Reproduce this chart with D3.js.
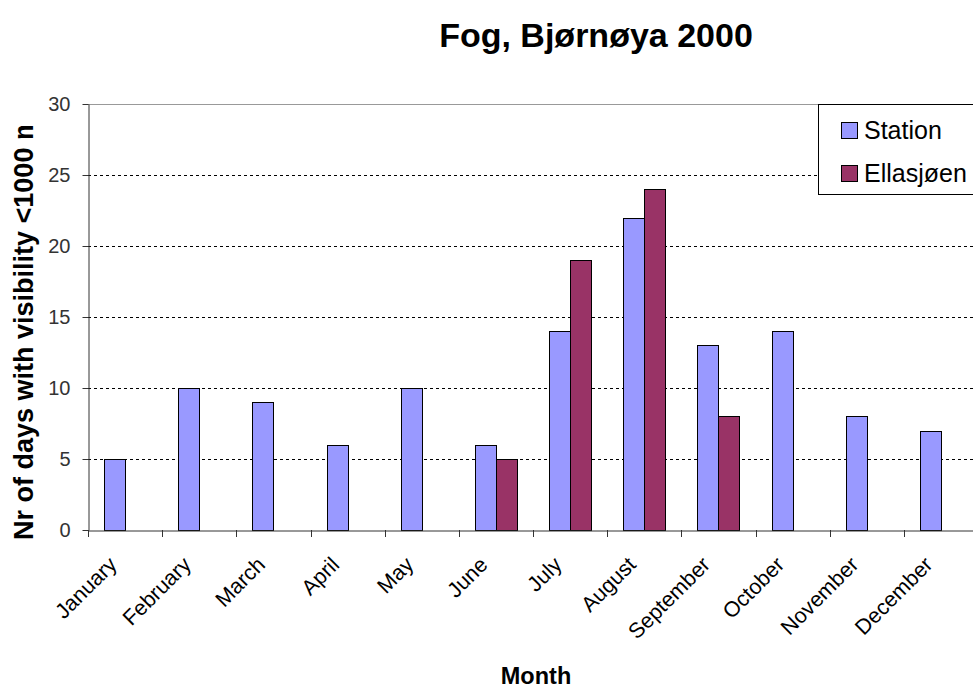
<!DOCTYPE html>
<html><head><meta charset="utf-8">
<script src="https://cdn.jsdelivr.net/npm/d3@7"></script>
<style>body{margin:0;background:#fff;} svg{display:block;font-family:Arial,"Liberation Sans",sans-serif;}</style>
</head><body>
<svg id="chart" width="973" height="688"></svg>
<script>
const months = ["January","February","March","April","May","June","July","August","September","October","November","December"];
const seriesNames = ["Station","Ellasjøen"];
const station = [5,10,9,6,10,6,14,22,13,14,8,7];
const ellasjoen = [null,null,null,null,null,5,19,24,8,null,null,null];
const yTicks = [0,5,10,15,20,25,30];
const colors = ["#9999FF","#993366"];

(function(){
const svg = d3.select("#chart");
const pLeft = 88, pRight = 978, pTop = 104, pBottom = 530;

const x = d3.scaleBand().domain(months).range([pLeft, pRight]).paddingInner(0).paddingOuter(0);
const inner = d3.scaleBand().domain(seriesNames).range([0, x.bandwidth()]).paddingInner(0).paddingOuter(0.76);
const y = d3.scaleLinear().domain([0,30]).range([pBottom, pTop]);

svg.append("g").selectAll("line").data(yTicks.filter(d => d > 0 && d < 30)).join("line")
  .attr("x1", pLeft).attr("x2", pRight).attr("y1", d => Math.round(y(d)) + 0.5).attr("y2", d => Math.round(y(d)) + 0.5)
  .attr("stroke", "#000").attr("stroke-width", 1).attr("stroke-dasharray", "3,3");
svg.append("line").attr("x1", pLeft).attr("x2", pRight).attr("y1", Math.round(y(30)) + 0.5).attr("y2", Math.round(y(30)) + 0.5)
  .attr("stroke", "#999");

const data = [];
months.forEach((m, i) => {
  data.push({m, s: "Station", v: station[i]});
  data.push({m, s: "Ellasjøen", v: ellasjoen[i]});
});
svg.append("g").selectAll("rect").data(data.filter(d => d.v != null)).join("rect")
  .attr("x", d => Math.round(x(d.m) + inner(d.s)) + 0.5)
  .attr("width", Math.round(inner.bandwidth()))
  .attr("y", d => Math.round(y(d.v)) + 0.5)
  .attr("height", d => Math.round(y(0)) - Math.round(y(d.v)))
  .attr("fill", d => colors[seriesNames.indexOf(d.s)])
  .attr("stroke", "#000").attr("stroke-width", 1);

const yAxis = svg.append("g").attr("transform", `translate(${pLeft + 0.5},0)`)
  .call(d3.axisLeft(y).tickValues(yTicks).tickSize(6).tickSizeOuter(0).tickPadding(12));
yAxis.select(".domain").attr("stroke", "#333");
yAxis.selectAll(".tick line").attr("stroke", "#333");
yAxis.selectAll("text").attr("font-size", "20px").attr("fill", "#333")
  .attr("font-family", "Arial, 'Liberation Sans', sans-serif");

const xAxis = svg.append("g").attr("transform", `translate(0,${pBottom + 0.5})`)
  .call(d3.axisBottom(x).tickSize(0).tickSizeOuter(0).tickFormat(""));
xAxis.select(".domain").attr("stroke", "#333");
svg.append("g").selectAll("line").data(months).join("line")
  .attr("x1", d => Math.round(x(d)) + 0.5).attr("x2", d => Math.round(x(d)) + 0.5)
  .attr("y1", pBottom).attr("y2", pBottom + 7).attr("stroke", "#333");
svg.append("g").selectAll("text").data(months).join("text")
  .attr("transform", d => `translate(${x(d) + x.bandwidth()/2 - 7},${pBottom + 36}) rotate(-45)`)
  .attr("text-anchor", "end").attr("font-size", "21.5px").attr("fill", "#000")
  .text(d => d);

svg.append("text").attr("x", 596).attr("y", 47).attr("text-anchor", "middle")
  .attr("font-size", "34px").attr("font-weight", "bold").text("Fog, Bjørnøya 2000");
svg.append("text").attr("x", 536).attr("y", 684).attr("text-anchor", "middle")
  .attr("font-size", "23.5px").attr("font-weight", "bold").text("Month");

svg.append("clipPath").attr("id", "yclip").append("rect")
  .attr("x", 0).attr("y", 126).attr("width", 60).attr("height", 500);
svg.append("g").attr("clip-path", "url(#yclip)").append("text")
  .attr("transform", "translate(33,540) rotate(-90)").attr("text-anchor", "start")
  .attr("font-size", "27px").attr("font-weight", "bold").text("Nr of days with visibility <1000 m");

const lg = svg.append("g");
lg.append("rect").attr("x", 818.5).attr("y", 104.5).attr("width", 170).attr("height", 90)
  .attr("fill", "#fff").attr("stroke", "#000");
seriesNames.forEach((s, i) => {
  const base = 139 + i * 43;
  lg.append("rect").attr("x", 841.5).attr("y", base - 16.5).attr("width", 16).attr("height", 16)
    .attr("fill", colors[i]).attr("stroke", "#000");
  lg.append("text").attr("x", 864).attr("y", base).attr("font-size", "25px").text(s);
});
})();
</script>
</body></html>
